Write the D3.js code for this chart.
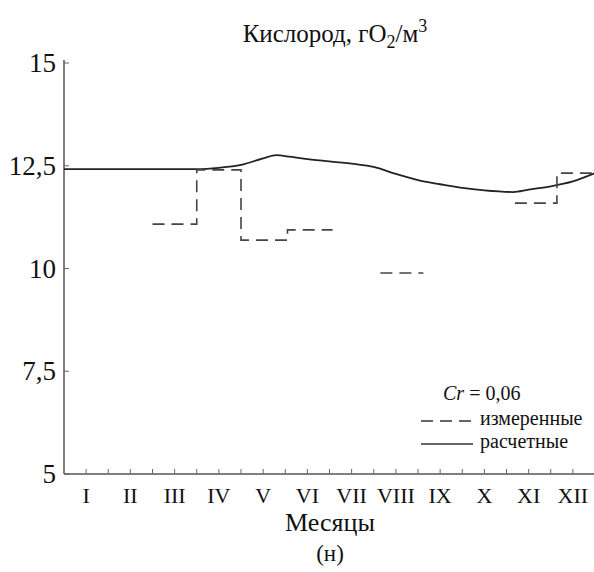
<!DOCTYPE html>
<html><head><meta charset="utf-8">
<script src="https://cdn.jsdelivr.net/npm/d3@7"></script>
</head><body style="margin:0">
<svg id="chart" width="594" height="572" font-family="Liberation Serif" style="font-family:'Liberation Serif'"></svg>
<script>
const months = ["I","II","III","IV","V","VI","VII","VIII","IX","X","XI","XII"];
const yTicks = [5, 7.5, 10, 12.5, 15];
const yTickLabels = ["5", "7,5", "10", "12,5", "15"];
// computed (solid) curve: month position, value
const calcMonth = [0.5, 1, 2, 3, 3.5, 4, 4.5, 5, 5.3, 5.6, 6, 7, 7.5, 8, 8.5, 9, 9.5, 10, 10.65, 11, 11.5, 12, 12.5];
const calcValue = [12.42, 12.42, 12.42, 12.42, 12.42, 12.45, 12.52, 12.68, 12.76, 12.72, 12.66, 12.55, 12.47, 12.3, 12.15, 12.05, 11.96, 11.9, 11.86, 11.92, 12.0, 12.12, 12.32];
// measured (dashed) step segments
const measStart = [2.5, 3.5, 4.5, 5.55, 7.65, 10.69, 11.64];
const measEnd   = [3.5, 4.5, 5.55, 6.57, 8.62, 11.64, 12.5];
const measValue = [11.08, 12.40, 10.69, 10.94, 9.89, 11.59, 12.32];

const svg = d3.select("#chart");
const x = d3.scaleLinear().domain([0.5, 12.5]).range([64, 595]);
const y = d3.scaleLinear().domain([5, 15]).range([474, 63]);

// axes lines
svg.append("line").attr("x1", 64).attr("x2", 64).attr("y1", 60).attr("y2", 474)
  .attr("stroke", "#555").attr("stroke-width", 1.5);
svg.append("line").attr("x1", 64).attr("x2", 594).attr("y1", 474).attr("y2", 474)
  .attr("stroke", "#555").attr("stroke-width", 1.5);

// y ticks (inward) and labels
svg.selectAll(".yt").data(yTicks).enter().append("line")
  .attr("x1", 64).attr("x2", 69).attr("y1", d => y(d)).attr("y2", d => y(d))
  .attr("stroke", "#666").attr("stroke-width", 1);
svg.selectAll(".yl").data(yTicks).enter().append("text")
  .attr("x", 56).attr("y", d => y(d) + 9)
  .attr("text-anchor", "end").attr("font-size", 27)
  .attr("fill", "#111").text((d, i) => yTickLabels[i]);

// x ticks every half month (inward)
const xTickPos = d3.range(1, 12.51, 0.5);
svg.selectAll(".xt").data(xTickPos).enter().append("line")
  .attr("x1", d => x(d)).attr("x2", d => x(d)).attr("y1", 474).attr("y2", 469)
  .attr("stroke", "#666").attr("stroke-width", 1);
svg.selectAll(".xl").data(months).enter().append("text")
  .attr("x", (d, i) => x(i + 1)).attr("y", 503)
  .attr("text-anchor", "middle").attr("font-size", 22)
  .attr("fill", "#111").text(d => d);

// computed line
const calcPts = calcMonth.map((m, i) => [m, calcValue[i]]);
svg.append("path").datum(calcPts)
  .attr("d", d3.line().x(d => x(d[0])).y(d => y(d[1])).curve(d3.curveMonotoneX))
  .attr("fill", "none").attr("stroke", "#222").attr("stroke-width", 1.8);

// measured dashed runs
const runs = [];
measStart.forEach((s, i) => {
  const pts = [[s, measValue[i]], [measEnd[i], measValue[i]]];
  if (i > 0 && Math.abs(measEnd[i - 1] - s) < 1e-6) runs[runs.length - 1].push(...pts);
  else runs.push(pts);
});
svg.selectAll(".meas").data(runs).enter().append("path")
  .attr("d", d3.line().x(d => x(d[0])).y(d => y(d[1])))
  .attr("fill", "none").attr("stroke", "#444").attr("stroke-width", 1.6)
  .attr("stroke-dasharray", "12,7");

// title
const title = svg.append("text").attr("x", 335).attr("y", 42)
  .attr("text-anchor", "middle").attr("font-size", 25).attr("fill", "#111");
title.append("tspan").text("Кислород, гO");
title.append("tspan").attr("font-size", 18).attr("dy", 6).text("2");
title.append("tspan").attr("dy", -6).text("/м");
title.append("tspan").attr("font-size", 18).attr("dy", -10).text("3");

// axis title
svg.append("text").attr("x", 330).attr("y", 531).attr("text-anchor", "middle")
  .attr("font-size", 26).attr("fill", "#111").text("Месяцы");
svg.append("text").attr("x", 330).attr("y", 561).attr("text-anchor", "middle")
  .attr("font-size", 23).attr("fill", "#111").text("(н)");

// legend
const cr = svg.append("text").attr("x", 443).attr("y", 400)
  .attr("font-size", 20).attr("fill", "#111");
cr.append("tspan").attr("font-style", "italic").text("Cr");
cr.append("tspan").text(" = 0,06");
svg.append("line").attr("x1", 421).attr("x2", 473).attr("y1", 421).attr("y2", 421)
  .attr("stroke", "#333").attr("stroke-width", 1.6).attr("stroke-dasharray", "12,7");
svg.append("text").attr("x", 480).attr("y", 425)
  .attr("font-size", 20).attr("fill", "#111").text("измеренные");
svg.append("line").attr("x1", 421).attr("x2", 473).attr("y1", 444).attr("y2", 444)
  .attr("stroke", "#333").attr("stroke-width", 1.6);
svg.append("text").attr("x", 480).attr("y", 448)
  .attr("font-size", 20).attr("fill", "#111").text("расчетные");
</script>
</body></html>
